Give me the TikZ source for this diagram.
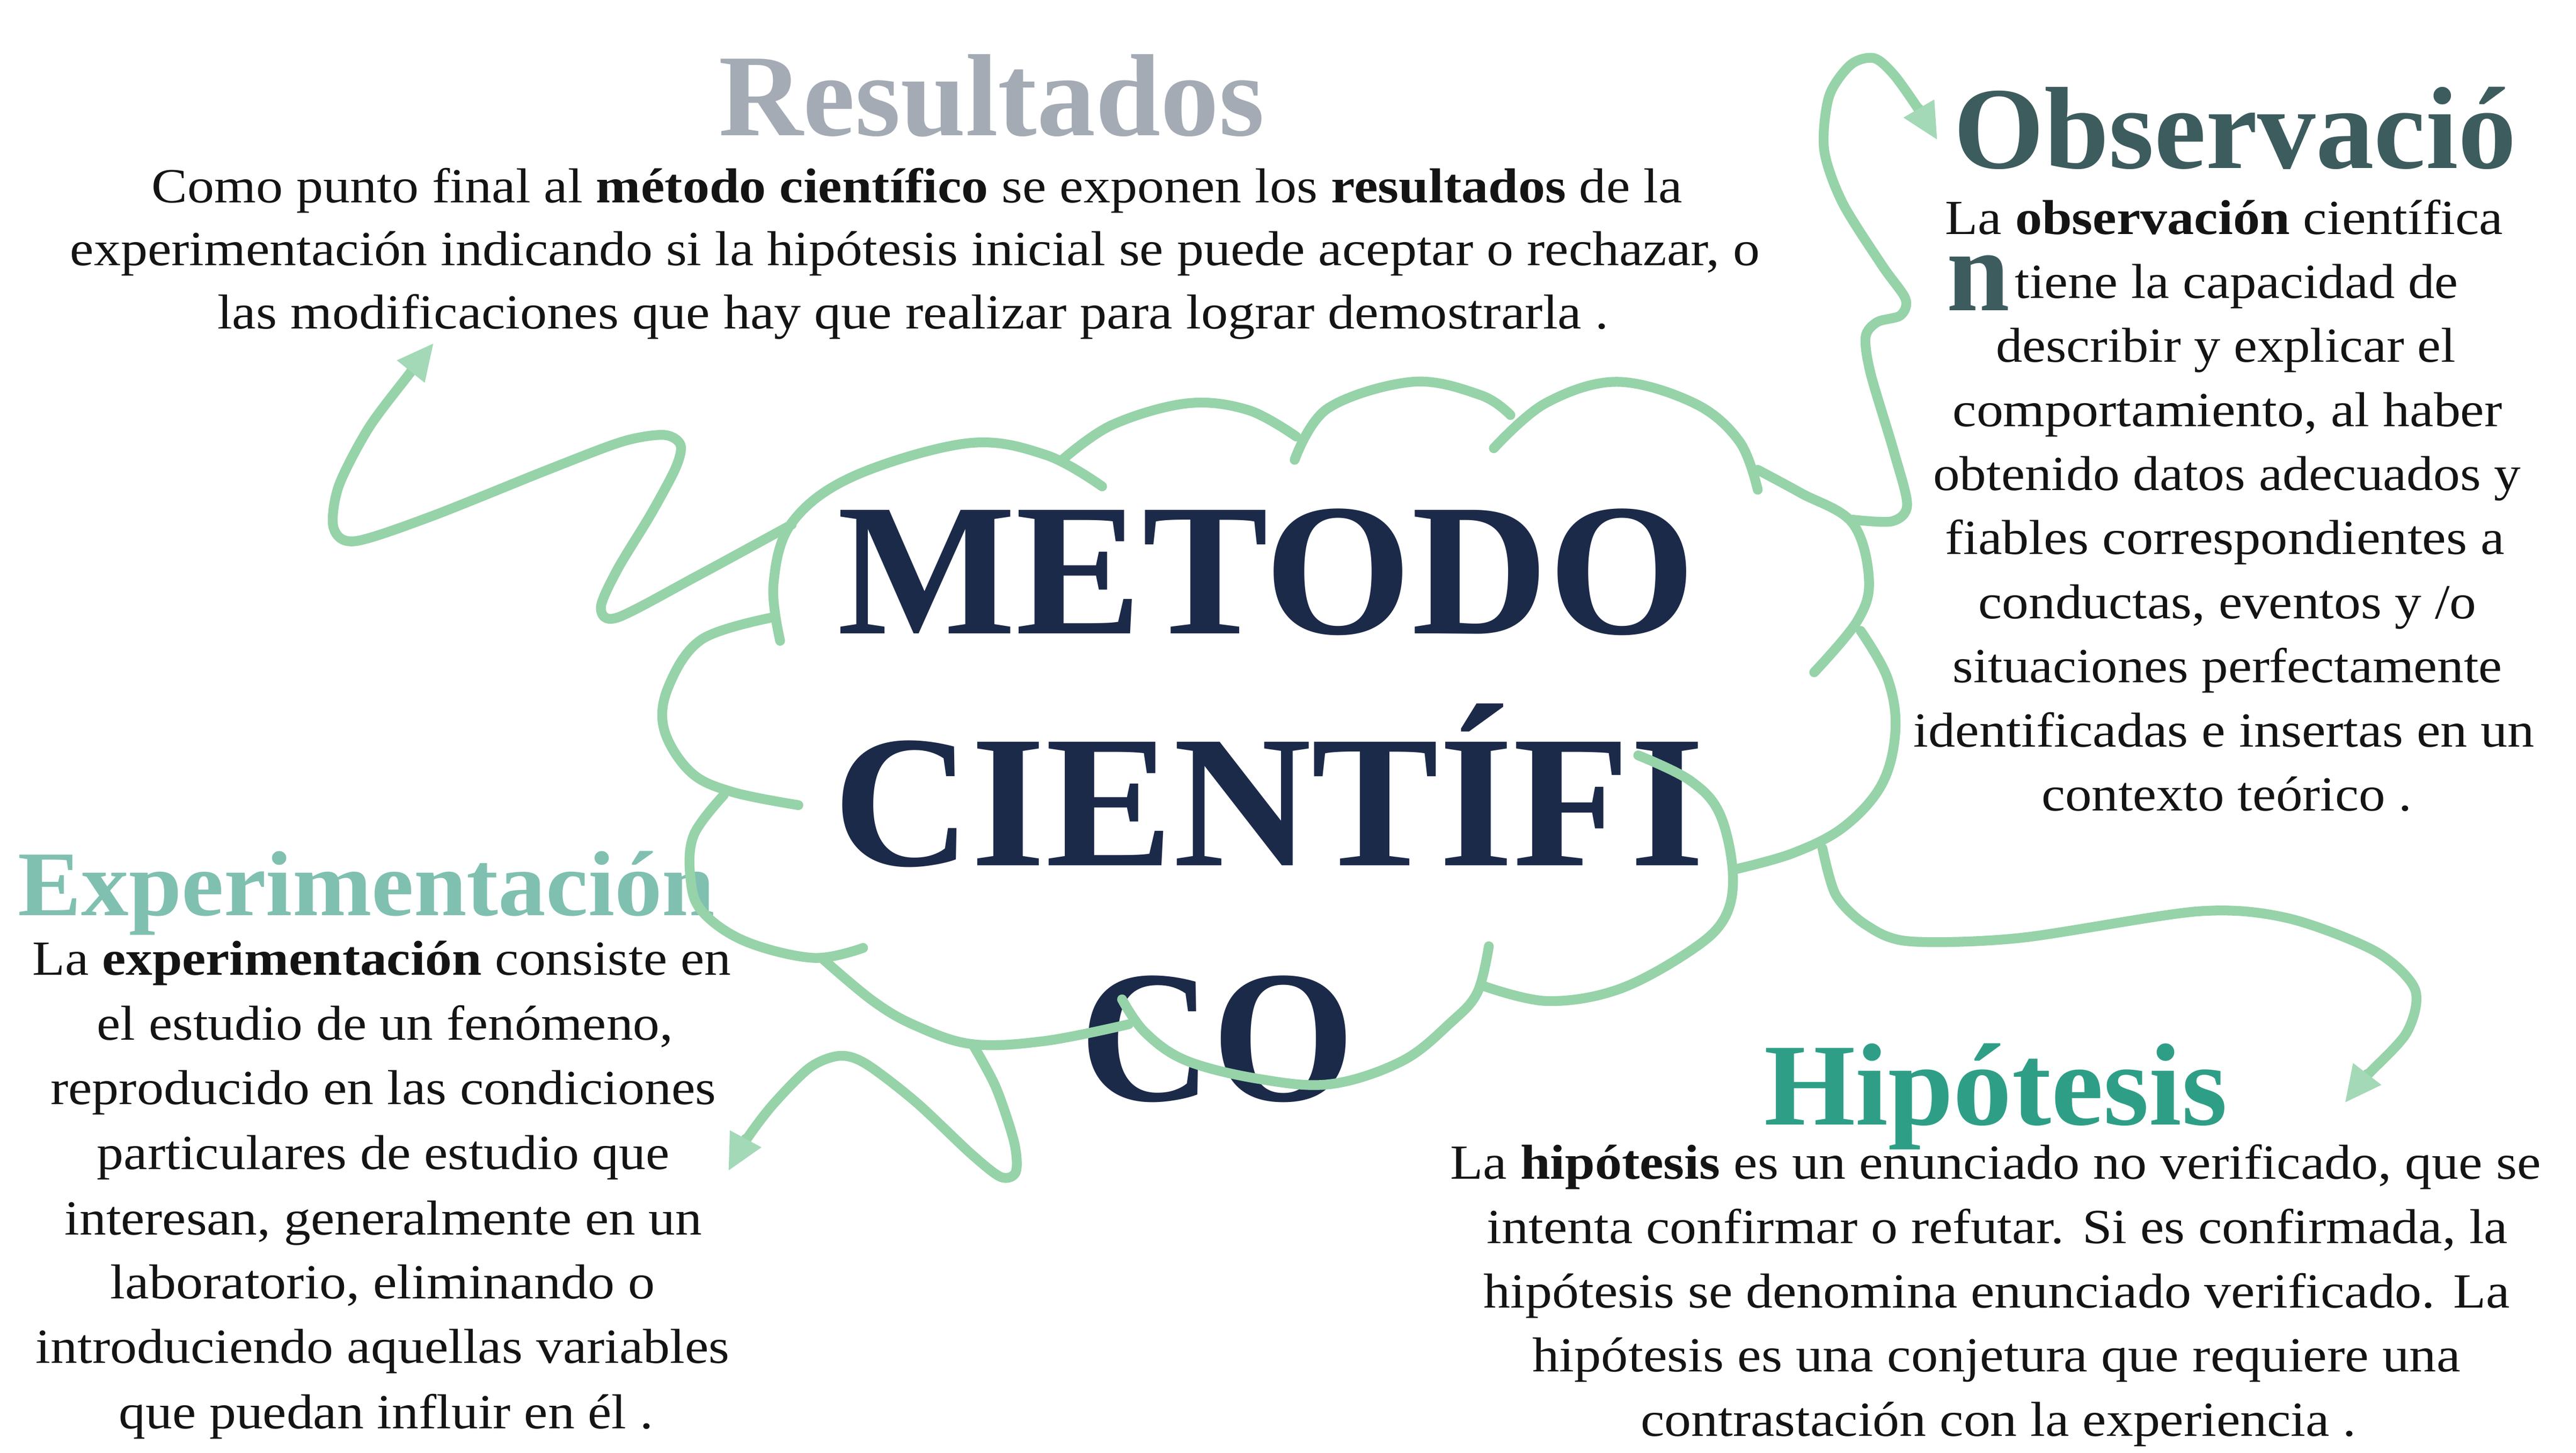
\documentclass[tikz,border=0pt]{standalone}
\usepackage{fontspec}
\setmainfont{Liberation Serif}
\usepackage{graphicx}
\usetikzlibrary{arrows.meta}
\definecolor{navy}{HTML}{1C2A4A}
\definecolor{resgray}{HTML}{A4ABB4}
\definecolor{obscol}{HTML}{3D5C5E}
\definecolor{expcol}{HTML}{80C0B1}
\definecolor{hipcol}{HTML}{2E9F86}
\definecolor{lgreen}{HTML}{96D3A8}
\definecolor{agreen}{HTML}{A3D9B7}
\definecolor{bodyc}{HTML}{141414}
\newlength\dpx \setlength\dpx{0.030928cm}
\newcommand\fl[2]{\resizebox{#1\dpx}{\height}{#2}}
\begin{document}
\begin{tikzpicture}[x=0.030928cm,y=-0.030928cm,
 body/.style={anchor=base, inner sep=0pt, outer sep=0pt, font=\fontsize{26}{30}\selectfont, text=bodyc},
 ttl/.style={anchor=base, inner sep=0pt, outer sep=0pt, font=\fontsize{62}{62}\selectfont\bfseries},
 big/.style={anchor=base, inner sep=0pt, outer sep=0pt, font=\fontsize{100}{100}\selectfont\bfseries, text=navy},
 cloud/.style={draw=lgreen, line width=5.2pt, line cap=round, line join=round},
 conn/.style={cloud, -{Triangle[length=19pt,width=19pt,line width=0pt,color=agreen]}}
]
\useasboundingbox[fill=white] (0,0) rectangle (1552,875);

% ---- central title
\node[big] (m1) at (763,381.6) {\fl{517}{METODO}};
\node[big] (m2) at (764.5,521.3) {\fl{525}{CIENTÍFI}};
\node[big] (m3) at (733.4,663) {\fl{166}{CO}};

% ---- Resultados
\node[ttl, text=resgray] (tres) at (597.5,81.5) {\fl{329}{Resultados}};
\node[body] (res1) at (552.5,122) {\fl{922}{Como punto final al \textbf{método científico} se exponen los \textbf{resultados} de la}};
\node[body] (res2) at (551.3,160) {\fl{1018}{experimentación indicando si la hipótesis inicial se puede aceptar o rechazar, o}};
\node[body] (res3) at (550,198) {\fl{838}{las modificaciones que hay que realizar para lograr demostrarla .}};

% ---- Observacion
\node[ttl, text=obscol] (tobs) at (1346.5,101.5) {\fl{339}{Observació}};
\node[ttl, text=obscol, anchor=base west] (bign) at (1173,187) {\smash{\fl{38}{n}}};
\node[body] (obs1) at (1340,141) {\fl{336}{La \textbf{observación} científica}};
\node[body] (obs2) at (1347.5,179.6) {\fl{267}{tiene la capacidad de}};
\node[body] (obs3) at (1341,218.2) {\fl{277}{describir y explicar el}};
\node[body] (obs4) at (1342,256.8) {\fl{331}{comportamiento, al haber}};
\node[body] (obs5) at (1341.7,295.4) {\fl{354}{obtenido datos adecuados y}};
\node[body] (obs6) at (1340.5,334) {\fl{337}{fiables correspondientes a}};
\node[body] (obs7) at (1342,372.6) {\fl{300}{conductas, eventos y /o}};
\node[body] (obs8) at (1342,411.2) {\fl{331}{situaciones perfectamente}};
\node[body] (obs9) at (1340,449.8) {\fl{374}{identificadas e insertas en un}};
\node[body] (obs10) at (1341.5,488.4) {\fl{223}{contexto teórico .}};

% ---- Experimentacion
\node[ttl, text=expcol, font=\fontsize{49}{49}\selectfont\bfseries] (texp) at (220.8,551.3) {\fl{420}{Experimentación}};
\node[body] (exp1) at (230,587.2) {\fl{421}{La \textbf{experimentación} consiste en}};
\node[body] (exp2) at (232,626.6) {\fl{347}{el estudio de un fenómeno,}};
\node[body] (exp3) at (231,665.3) {\fl{401}{reproducido en las condiciones}};
\node[body] (exp4) at (231,704.3) {\fl{345}{particulares de estudio que}};
\node[body] (exp5) at (231,743.7) {\fl{384}{interesan, generalmente en un}};
\node[body] (exp6) at (230.6,782.4) {\fl{328}{laboratorio, eliminando o}};
\node[body] (exp7) at (230.6,821.1) {\fl{418}{introduciendo aquellas variables}};
\node[body] (exp8) at (232.6,860.5) {\fl{322}{que puedan influir en él .}};

% ---- Hipotesis
\node[ttl, text=hipcol] (thip) at (1202.4,677.5) {\fl{279}{Hipótesis}};
\node[body] (hip1) at (1202.3,710.3) {\fl{657}{La \textbf{hipótesis} es un enunciado no verificado, que se}};
\node[body] (hip2) at (1203.4,749) {\fl{615}{intenta confirmar o refutar. Si es confirmada, la}};
\node[body] (hip3) at (1203,787.7) {\fl{618}{hipótesis se denomina enunciado verificado. La}};
\node[body] (hip4) at (1202.8,826.4) {\fl{559}{hipótesis es una conjetura que requiere una}};
\node[body] (hip5) at (1204.1,865) {\fl{431}{contrastación con la experiencia .}};

% ---- cloud
\draw[cloud] plot[smooth,tension=0.6] coordinates {(470,386) (466,352) (477,315) (514,287) (583,267) (630,274) (664,293)};
\draw[cloud] plot[smooth,tension=0.6] coordinates {(640,277) (670,256) (715,243) (752,247) (781,263)};
\draw[cloud] plot[smooth,tension=0.6] coordinates {(780,277) (800,246) (851,230) (892,238) (910,250)};
\draw[cloud] plot[smooth,tension=0.6] coordinates {(900,270) (931,243) (974,230) (1021,243) (1048,266) (1059,295)};
\draw[cloud] plot[smooth,tension=0.6] coordinates {(1059,283) (1085,297) (1116,315) (1126,349) (1119,374) (1093,405)};
\draw[cloud] plot[smooth,tension=0.6] coordinates {(1121,380) (1137,408) (1142,439) (1134,472) (1111,498) (1080,514) (1044,524)};
\draw[cloud] plot[smooth,tension=0.6] coordinates {(987,455) (1018,470) (1036,490) (1044,526) (1039,553) (1018,573) (975,596) (932,603) (894,594)};
\draw[cloud] plot[smooth,tension=0.6] coordinates {(897,570) (890,598) (874,616) (845,639) (802,653) (759,650) (715,639) (690,622) (676,602)};
\draw[cloud] plot[smooth,tension=0.6] coordinates {(495,577) (526,603) (552,618) (586,629) (630,627) (680,617)};
\draw[cloud] plot[smooth,tension=0.6] coordinates {(436,479) (418,503) (416,529) (423,549) (449,567) (490,577) (520,571)};
\draw[cloud] plot[smooth,tension=0.6] coordinates {(465,372) (423,385) (403,413) (400,439) (416,465) (441,477) (481,485)};

% ---- connectors
\coordinate (rs) at (477,316); \coordinate (rt) at (261,207);
\coordinate (os) at (1116,313); \coordinate (ot) at (1167,84);
\coordinate (hs) at (1098,511); \coordinate (ht) at (1413,664);
\coordinate (es) at (586,629); \coordinate (et) at (439,705);
\draw[conn] plot[smooth,tension=0.5] coordinates {(rs) (420,347) (372,372) (362,366) (372,343) (392,310) (407,282) (410,268) (400,262) (375,266) (330,283) (260,311) (214,326) (201,318) (204,293) (222,258) (246,226) (rt)};
\draw[conn] plot[smooth,tension=0.5] coordinates {(os) (1140,314) (1149,304) (1141,272) (1127,225) (1124,203) (1131,194) (1145,190) (1148,180) (1134,160) (1110,122) (1099,90) (1102,58) (1115,39) (1129,35) (1141,45) (1156,66) (ot)};
\draw[conn] plot[smooth,tension=0.5] coordinates {(hs) (1106,539) (1124,557) (1150,567) (1217,565) (1324,549) (1378,553) (1431,573) (1455,596) (1450,622) (1426,648) (ht)};
\draw[conn] plot[smooth,tension=0.5] coordinates {(es) (600,655) (611,688) (612,706) (603,709) (585,695) (552,664) (522,641) (506,636) (488,643) (466,665) (450,686) (et)};
\end{tikzpicture}
\end{document}
